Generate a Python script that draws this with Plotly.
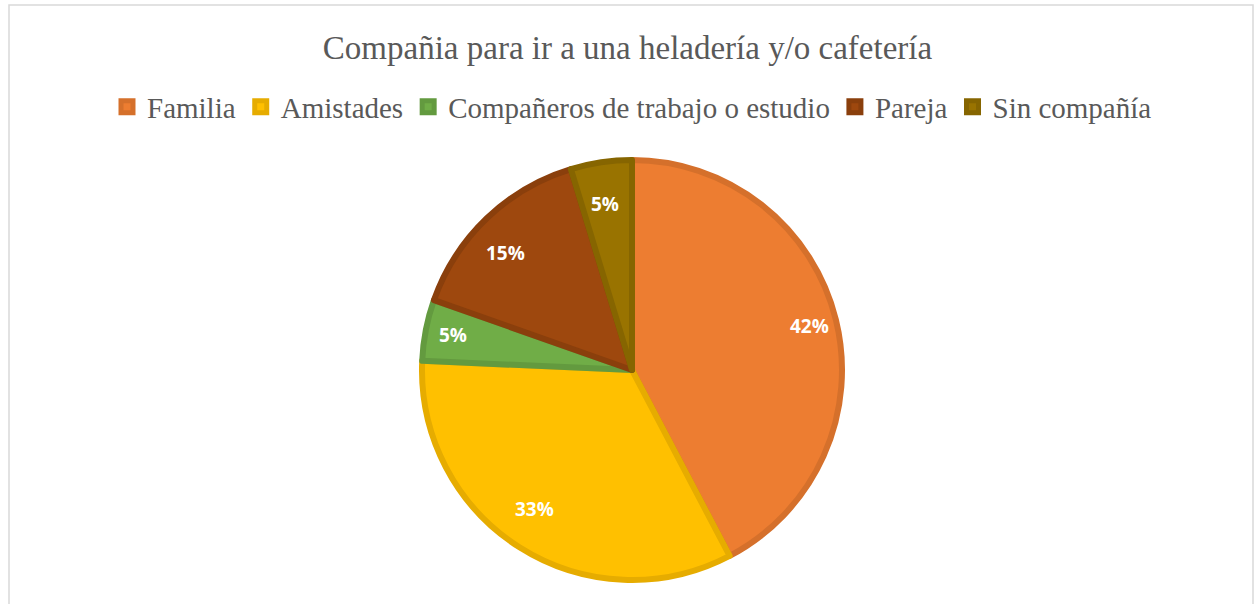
import math
import plotly.graph_objects as go

categories = ["Familia", "Amistades", "Compañeros de trabajo o estudio", "Pareja", "Sin compañía"]
values = [42.3, 33.4, 4.7, 14.9, 4.7]
fill_colors = ["#ED7D31", "#FFC000", "#70AD47", "#9E480E", "#997300"]
line_colors = ["#D5702B", "#E6AC00", "#639A3F", "#8A3F0C", "#866500"]
title_text = "Compañia para ir a una heladería y/o cafetería"

W, H = 1255, 604
ml, mr, mt, mb = 10, 1, 160, 24
pw, ph = W - ml - mr, H - mt - mb
R = min(pw, ph) / 2
label_r = 0.87

fig = go.Figure(go.Pie(
    labels=categories,
    values=values,
    sort=False,
    direction="clockwise",
    rotation=0,
    marker=dict(colors=fill_colors, line=dict(color=line_colors, width=6)),
    textinfo="none",
    hoverinfo="label+percent",
))

# data labels along each slice bisector (Excel style)
total = sum(values)
cum = 0.0
for v in values:
    mid = (cum + v / 2) / total * 2 * math.pi
    cum += v
    fig.add_annotation(
        x=0.5 + label_r * R * math.sin(mid) / pw,
        y=0.5 + label_r * R * math.cos(mid) / ph,
        xref="paper", yref="paper", showarrow=False,
        text=f"{round(v / total * 100)}%",
        font=dict(family="Open Sans", size=19, color="white", weight="bold"),
    )

fig.update_layout(
    width=W, height=H,
    margin=dict(l=ml, r=mr, t=mt, b=mb),
    paper_bgcolor="white",
    plot_bgcolor="white",
    title=dict(text=title_text, x=0.5, xanchor="center", y=1 - 47 / H, yref="container",
               yanchor="middle", font=dict(family="Liberation Serif", size=33, color="#595959")),
    legend=dict(orientation="h", x=0.5, xanchor="center", y=1 - 107 / H, yref="container",
                yanchor="middle", font=dict(family="Liberation Serif", size=29, color="#595959"),
                itemwidth=30, tracegroupgap=0),
    showlegend=True,
)

fig.add_shape(type="rect", xref="paper", yref="paper",
              x0=(9 - ml) / pw, x1=(1253 - ml) / pw,
              y0=-0.2, y1=(H - mb - 5) / ph,
              line=dict(color="#D9D9D9", width=1.5), fillcolor="rgba(0,0,0,0)", layer="below")

fig.write_html("out.html", config={"displayModeBar": False},
               post_script="document.body.style.margin='0';")
